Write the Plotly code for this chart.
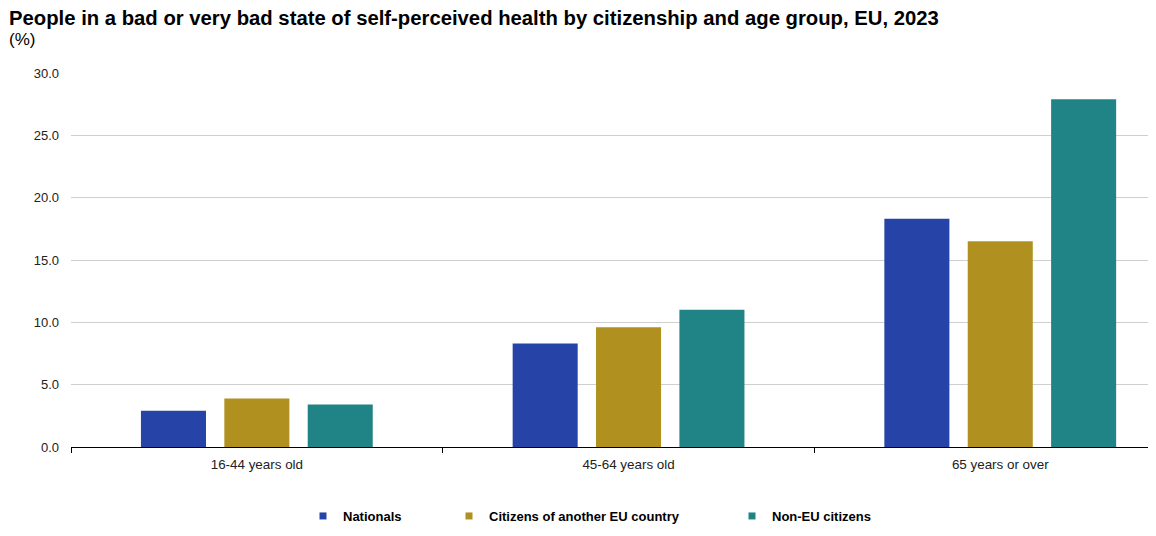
import plotly.graph_objects as go

categories = ["16-44 years old", "45-64 years old", "65 years or over"]
nationals = [2.9, 8.3, 18.3]
eu_citizens = [3.9, 9.6, 16.5]
non_eu = [3.4, 11.0, 27.9]
series_names = ["Nationals", "Citizens of another EU country", "Non-EU citizens"]
colors = ["#2644A7", "#B09120", "#208486"]
y_ticks = [0, 5, 10, 15, 20, 25, 30]

W, H = 1156, 536
OFF = 8  # page body margin
ML, MR, MT, MB = 71 - OFF, OFF, 73 - OFF, H - (447 - OFF)
FONT = "Liberation Sans, Arial, sans-serif"

fig = go.Figure()
legend_ids = ["legend", "legend2", "legend3"]
for name, vals, col, lg in zip(series_names, [nationals, eu_citizens, non_eu], colors, legend_ids):
    fig.add_trace(go.Bar(x=categories, y=vals, name=name, marker=dict(color=col, line=dict(width=0)),
                         showlegend=False, hovertemplate="%{x}: %{y:.1f}<extra>" + name + "</extra>"))
    fig.add_trace(go.Scatter(x=[None], y=[None], mode="markers", name=name,
                             marker=dict(symbol="square", size=7, color=col),
                             showlegend=True, legend=lg))

plot_w = W - ML - MR
plot_h = H - MT - MB
cat_px = 371.7

def legx(px):
    return (px - OFF) / W

leg_common = dict(orientation="h", xref="container", yref="container", yanchor="middle",
                  xanchor="left", y=1 - (516 - OFF) / H, bgcolor="rgba(0,0,0,0)", borderwidth=0,
                  font=dict(family=FONT, size=13, color="#000000", weight="bold"),
                  itemwidth=30, tracegroupgap=0)

fig.update_layout(
    width=W, height=H,
    margin=dict(l=ML, r=MR, t=MT, b=MB, autoexpand=False),
    paper_bgcolor="white", plot_bgcolor="white",
    barmode="group", bargap=0.327, bargroupgap=0.22,
    font=dict(family=FONT, size=13, color="#222222"),
    title=dict(text="<b>People in a bad or very bad state of self-perceived health by citizenship and age group, EU, 2023</b>",
               x=1 / W, xanchor="left", xref="container", y=1 - 3 / H, yanchor="top", yref="container",
               font=dict(family=FONT, size=20.3, color="#000000")),
    xaxis=dict(type="category", range=[-0.5, -0.5 + plot_w / cat_px], showline=True, linecolor="#000000",
               linewidth=1, ticks="outside", tickson="boundaries", ticklen=5, tickcolor="#000000",
               showgrid=False, zeroline=False, ticklabelstandoff=5,
               tickfont=dict(family=FONT, size=13.4, color="#222222"), fixedrange=True),
    yaxis=dict(range=[0, 30], tickvals=y_ticks, tickformat=".1f", showgrid=True, gridcolor="#cfcfcf",
               gridwidth=1, zeroline=False, showline=False, ticks="", ticklabelstandoff=11,
               tickfont=dict(family=FONT, size=13, color="#222222"), fixedrange=True),
    legend=dict(x=legx(303), **leg_common),
    legend2=dict(x=legx(449), **leg_common),
    legend3=dict(x=legx(732), **leg_common),
    annotations=[dict(text="(%)", xref="paper", yref="paper", x=(-1 - ML) / plot_w, xanchor="left",
                      y=1 + (MT - (39 - OFF)) / plot_h, yanchor="middle", showarrow=False,
                      font=dict(family=FONT, size=17, color="#000000"))],
)

fig.write_html("out.html")
